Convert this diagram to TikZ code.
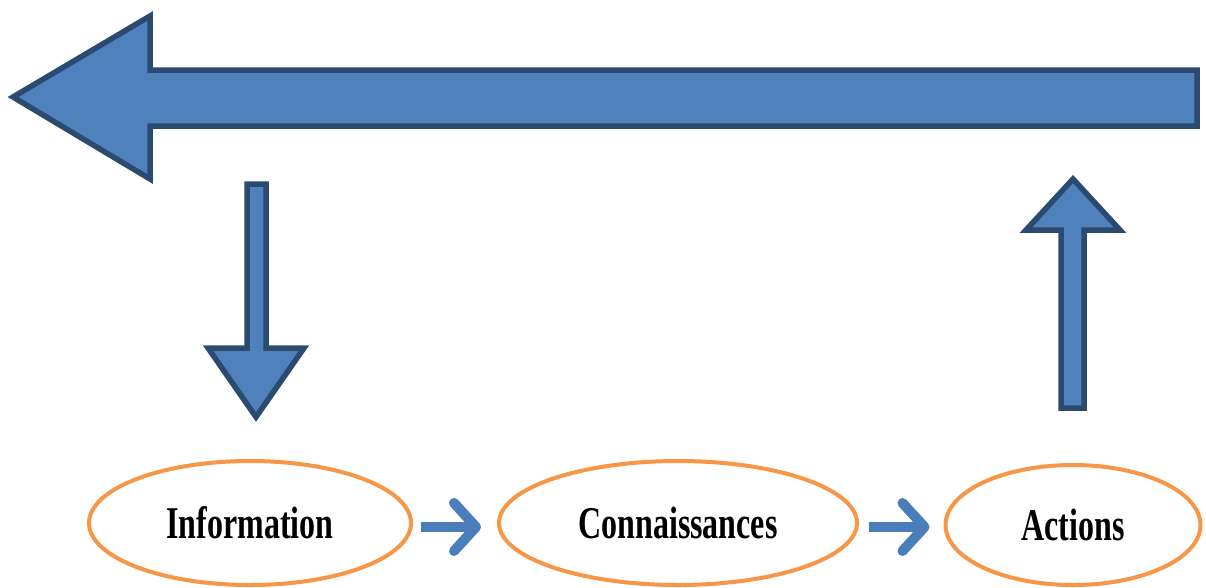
\documentclass[tikz,border=0pt]{standalone}
\usepackage{fontspec}
\setmainfont{Liberation Serif}
\usetikzlibrary{arrows.meta,shapes.geometric}
\definecolor{fillblue}{HTML}{4F81BD}
\definecolor{edgeblue}{HTML}{2A4A70}
\definecolor{orangeline}{HTML}{F79646}
\definecolor{linkblue}{HTML}{4A7EBB}
\tikzset{
  bigarrow/.style={fill=fillblue, draw=edgeblue, line width=5.5pt, line join=miter},
  oval/.style={ellipse, draw=orangeline, line width=4pt, inner sep=0pt, fill=white,
    font=\fontsize{32}{34}\selectfont\bfseries},
  link/.style={draw=linkblue, line width=10pt,
    -{Straight Barb[length=22pt, width=48pt, round]}},
}
\newcommand{\tall}[1]{\scalebox{1}[1.42]{#1}}
\begin{document}
\begin{tikzpicture}[x=1pt,y=-1pt]
\useasboundingbox (0,0) rectangle (1206,587);
% big left arrow
\draw[bigarrow] (13,97) -- (150,16) -- (150,70) -- (1197,70) -- (1197,126) -- (150,126) -- (150,179) -- cycle;
% down arrow
\draw[bigarrow] (247,184) -- (266,184) -- (266,348) -- (304,348) -- (256,417) -- (208,348) -- (247,348) -- cycle;
% up arrow
\draw[bigarrow] (1061,408) -- (1084,408) -- (1084,230) -- (1120,230) -- (1073,179) -- (1026,230) -- (1061,230) -- cycle;
% ellipses
\node[oval, minimum width=322pt, minimum height=124pt] (info) at (250,523) {\tall{Information}};
\node[oval, minimum width=358pt, minimum height=124pt] (conn) at (678,523) {\tall{Connaissances}};
\node[oval, minimum width=255pt, minimum height=120pt] (act) at (1073,525) {\tall{Actions}};
% links
\draw[link, shorten <=8pt, shorten >=16pt] ([yshift=-4pt]info.east) -- ([yshift=-4pt]conn.west);
\draw[link, shorten <=10pt, shorten >=14pt] ([yshift=-4pt]conn.east) -- ([yshift=-2pt]act.west);
\end{tikzpicture}
\end{document}
